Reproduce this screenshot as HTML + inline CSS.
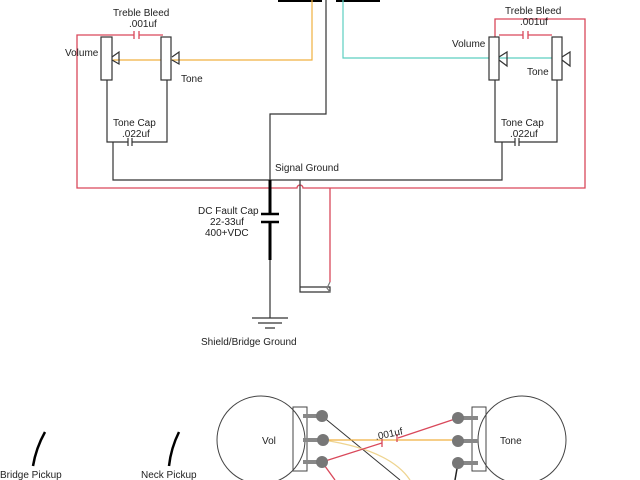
<!DOCTYPE html>
<html><head><style>html,body{margin:0;padding:0;background:#fff;}svg{display:block}</style></head><body>
<svg width="640" height="480" viewBox="0 0 640 480" xmlns="http://www.w3.org/2000/svg" font-family="Liberation Sans, Arial, sans-serif" font-size="10" fill="none">
<rect x="278" y="0" width="44" height="2" fill="#000"/>
<rect x="336" y="0" width="44" height="2" fill="#000"/>
<g stroke="#d9485a" stroke-width="1.3">
<path d="M101 35 H77 V188 H297 A3 3 0 0 1 303 188 H585 V19 H495 V37"/>
<path d="M101 35 H134 M139 35 H163 M134 31 V39 M139 31 V39"/>
<path d="M499 35 H523 M528 35 H552 M523 31 V39 M528 31 V39"/>
<path d="M330 188 V282"/>
</g>
<path d="M113 60 H312 V0" stroke="#f0b040" stroke-width="1.2"/>
<path d="M343 0 V58 H555" stroke="#5ccfc0" stroke-width="1.2"/>
<g stroke="#333" stroke-width="1.2">
<path d="M107 80 V142 H128 M132 142 H167 V80"/>
<path d="M128 138 V146 M132 138 V146"/>
<path d="M113 142 V180 H502 V142"/>
<path d="M495 80 V142 H515 M519 142 H557 V80"/>
<path d="M515 138 V146 M519 138 V146"/>
<path d="M270 180 V114 H326 V0"/>
<path d="M270 260 V318"/>
<path d="M300 180 V287 H330 V292 H300 Z"/>
<path d="M252 318 H288 M258 323 H282 M265 328 H275"/>
<path d="M330 282 L327 288 L330 292" stroke="#777"/>
</g>
<path d="M270 180 V214 M270 222 V260" stroke="#000" stroke-width="3"/>
<path d="M261 214 H279 M261 222 H279" stroke="#000" stroke-width="2.5"/>
<g stroke="#333" stroke-width="1.2" fill="#fff">
<rect x="101" y="37" width="11" height="43"/>
<rect x="161" y="37" width="10" height="43"/>
<rect x="489" y="37" width="10" height="43"/>
<rect x="552" y="37" width="10" height="43"/>
</g>
<g stroke="#333" stroke-width="1.2">
<path d="M112 57 L119 52 V64 L112 60"/>
<path d="M172 57 L179 52 V64 L172 60"/>
<path d="M499 57 L507 52 V66 L499 60"/>
<path d="M562 57 L570 52 V66 L562 60"/>
</g>
<g fill="#222">
<text x="113" y="16">Treble Bleed</text>
<text x="129" y="27">.001uf</text>
<text x="65" y="56">Volume</text>
<text x="181" y="82">Tone</text>
<text x="113" y="126">Tone Cap</text>
<text x="122" y="137">.022uf</text>
<text x="505" y="14">Treble Bleed</text>
<text x="520" y="25">.001uf</text>
<text x="452" y="47">Volume</text>
<text x="527" y="75">Tone</text>
<text x="501" y="126">Tone Cap</text>
<text x="510" y="137">.022uf</text>
<text x="275" y="171">Signal Ground</text>
<text x="198" y="214">DC Fault Cap</text>
<text x="210" y="225">22-33uf</text>
<text x="205" y="236">400+VDC</text>
<text x="201" y="345">Shield/Bridge Ground</text>
<text x="0" y="478">Bridge Pickup</text>
<text x="141" y="478">Neck Pickup</text>
</g>
<path d="M45 432 Q36 448 33 466" stroke="#000" stroke-width="2.5"/>
<path d="M179 432 Q171 448 169 466" stroke="#000" stroke-width="2.5"/>
<g stroke="#444" stroke-width="1">
<circle cx="261" cy="440" r="44" fill="#fff"/>
<rect x="293" y="407" width="14" height="64"/>
<circle cx="522" cy="440" r="44" fill="#fff"/>
<rect x="472" y="407" width="14" height="64"/>
</g>
<g stroke="#888" stroke-width="4">
<path d="M303 416 H322 M303 440 H323 M303 462 H322"/>
<path d="M458 418 H478 M458 441 H478 M458 463 H478"/>
</g>
<path d="M322 416 L400 480" stroke="#333" stroke-width="1"/>
<path d="M458 463 L455 480" stroke="#222" stroke-width="1.5"/>
<path d="M323 440 Q390 450 410 480" stroke="#eed490" stroke-width="1.3"/>
<path d="M323 440 H458" stroke="#f0b040" stroke-width="1.2"/>
<path d="M322 462 L382 443 M398 438 L458 418" stroke="#d9485a" stroke-width="1.3"/>
<path d="M382 439 V447 M397 434 V442" stroke="#d9485a" stroke-width="1.3"/>
<path d="M322 462 L335 480" stroke="#d9485a" stroke-width="1.3"/>
<g fill="#777">
<circle cx="322" cy="416" r="6"/><circle cx="323" cy="440" r="6"/><circle cx="322" cy="462" r="6"/>
<circle cx="458" cy="418" r="6"/><circle cx="458" cy="441" r="6"/><circle cx="458" cy="463" r="6"/>
</g>
<g fill="#222">
<text x="262" y="444">Vol</text>
<text x="500" y="444">Tone</text>
<text x="376" y="440" transform="rotate(-12 376 440)">.001uf</text>
</g>
</svg>
</body></html>
